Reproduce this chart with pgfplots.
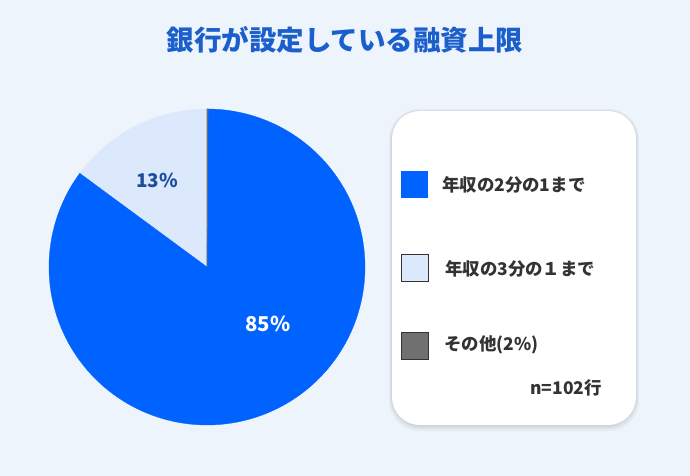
\documentclass[border=0pt]{standalone}
\usepackage{pgfplots}
\pgfplotsset{compat=1.18}
\usepackage{pgfplotstable}
\usepackage{fontspec}
\setmainfont{Noto Sans CJK JP}
\newfontfamily\jp{Noto Sans CJK JP}
\definecolor{bgc}{HTML}{EEF4FC}
\definecolor{pieblue}{HTML}{0062FF}
\definecolor{pielight}{HTML}{DCE8FC}
\definecolor{piegray}{HTML}{707070}
\definecolor{titleblue}{HTML}{1A5FCC}
\definecolor{lbldark}{HTML}{1D4E9E}
\definecolor{txt}{HTML}{333333}

\pgfplotstableread{
name share
half 85.0
third 14.9
other 0.1
}\piedata

\begin{document}
\begin{tikzpicture}[x=1bp,y=1bp]
\pgfplotstablegetelem{0}{share}\of\piedata \let\sA\pgfplotsretval
\pgfplotstablegetelem{1}{share}\of\piedata \let\sB\pgfplotsretval
\pgfplotstablegetelem{2}{share}\of\piedata \let\sC\pgfplotsretval
\pgfmathsetmacro{\aZero}{90}
\pgfmathsetmacro{\aOne}{90+3.6*\sB}
\pgfmathsetmacro{\aTwo}{\aOne+3.6*\sA}
\pgfmathsetmacro{\aThree}{\aTwo+3.6*\sC}
% background
\fill[bgc] (0,0) rectangle (690,476);
% title
\node[font=\jp\bfseries\fontsize{27.6}{32}\selectfont, text=titleblue] at (345,436) {銀行が設定している融資上限};
% legend box with soft shadow
\foreach \i/\o in {6/0.03,4/0.04,2/0.05}{
  \fill[black,opacity=\o,rounded corners=30] (392-\i*0.5,51-\i) rectangle (636+\i*0.5,365+\i*0.3);
}
\fill[white,rounded corners=28] (392,51) rectangle (636,365);
\begin{axis}[at={(0,0)}, anchor=south west, scale only axis,
  width=690bp, height=476bp, xmin=0, xmax=690, ymin=0, ymax=476,
  hide axis, clip=false]
\addplot[fill=pielight, draw=pielight, line width=0.3bp, domain=\aZero:\aOne, samples=80, variable=\t]
  ({207+158*cos(\t)},{209+158*sin(\t)}) -- (207,209) -- cycle;
\addplot[fill=pieblue, draw=pieblue, line width=0.3bp, domain=\aOne:\aTwo, samples=240, variable=\t]
  ({207+158*cos(\t)},{209+158*sin(\t)}) -- (207,209) -- cycle;
\addplot[fill=piegray, draw=piegray, line width=0.6bp, domain=\aTwo:\aThree, samples=5, variable=\t]
  ({207+158*cos(\t)},{209+158*sin(\t)}) -- (207,209) -- cycle;
\end{axis}
% slice labels
\node[font=\jp\bfseries\fontsize{19}{22}\selectfont, text=lbldark] at (157,296) {13\%};
\node[font=\jp\bfseries\fontsize{20.5}{24}\selectfont, text=white] at (268,152) {85\%};
% legend entries
\fill[pieblue] (401,278) rectangle (428,305);
\node[anchor=west, inner sep=0, font=\jp\bfseries\fontsize{17.5}{20}\selectfont, text=txt] at (442,291) {年収の2分の1まで};
\filldraw[fill=pielight, draw=txt, line width=0.7bp] (401,195) rectangle (428,222);
\node[anchor=west, inner sep=0, font=\jp\bfseries\fontsize{17.5}{20}\selectfont, text=txt] at (445,207) {年収の3分の１まで};
\filldraw[fill=piegray, draw=txt, line width=0.7bp] (401,117) rectangle (428,144);
\node[anchor=west, inner sep=0, font=\jp\bfseries\fontsize{17.5}{20}\selectfont, text=txt] at (444,131) {その他(2\%)};
\node[anchor=east, inner sep=0, font=\jp\bfseries\fontsize{17.5}{20}\selectfont, text=txt] at (602,88) {n=102行};
\end{tikzpicture}
\end{document}
